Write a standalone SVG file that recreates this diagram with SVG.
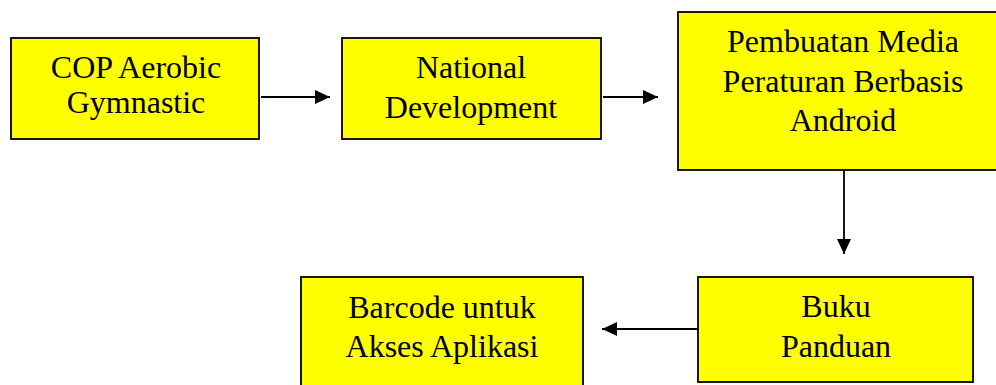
<svg xmlns="http://www.w3.org/2000/svg" width="996" height="385" viewBox="0 0 996 385">
<style>
.box{fill:#ffff00;stroke:#000;stroke-width:1.8}
.t{font-family:'Liberation Serif',serif;font-size:32px;fill:#000;text-anchor:middle}
.c{stroke:#000;stroke-width:1.8;fill:none}
</style>
<defs>
<marker id="ah" viewBox="0 0 15 14" refX="15" refY="7" markerWidth="15" markerHeight="14" markerUnits="userSpaceOnUse" orient="auto">
<path d="M0,0 L15,7 L0,14 Z" fill="#000"/>
</marker>
</defs>
<rect width="996" height="385" fill="#fff"/>
<g id="connectors">
<line class="c" x1="261" y1="97" x2="330" y2="97" marker-end="url(#ah)"/>
<line class="c" x1="603" y1="97" x2="658" y2="97" marker-end="url(#ah)"/>
<line class="c" x1="844" y1="171" x2="844" y2="254" marker-end="url(#ah)"/>
<line class="c" x1="698" y1="329" x2="602" y2="329" marker-end="url(#ah)"/>
</g>
<g id="n1">
<rect class="box" x="11" y="38" width="248" height="101"/>
<text class="t" x="136" y="78">COP Aerobic</text>
<text class="t" x="136" y="113">Gymnastic</text>
</g>
<g id="n2">
<rect class="box" x="342" y="38" width="259" height="101"/>
<text class="t" x="471" y="78">National</text>
<text class="t" x="471" y="118">Development</text>
</g>
<g id="n3">
<rect class="box" x="678" y="12" width="330" height="158"/>
<text class="t" x="843" y="52">Pembuatan Media</text>
<text class="t" x="843" y="92">Peraturan Berbasis</text>
<text class="t" x="843" y="131">Android</text>
</g>
<g id="n4">
<rect class="box" x="698" y="277" width="275" height="105"/>
<text class="t" x="836" y="317">Buku</text>
<text class="t" x="836" y="357">Panduan</text>
</g>
<g id="n5">
<rect class="box" x="301" y="277" width="282" height="115"/>
<text class="t" x="442" y="318">Barcode untuk</text>
<text class="t" x="442" y="357">Akses Aplikasi</text>
</g>
</svg>
